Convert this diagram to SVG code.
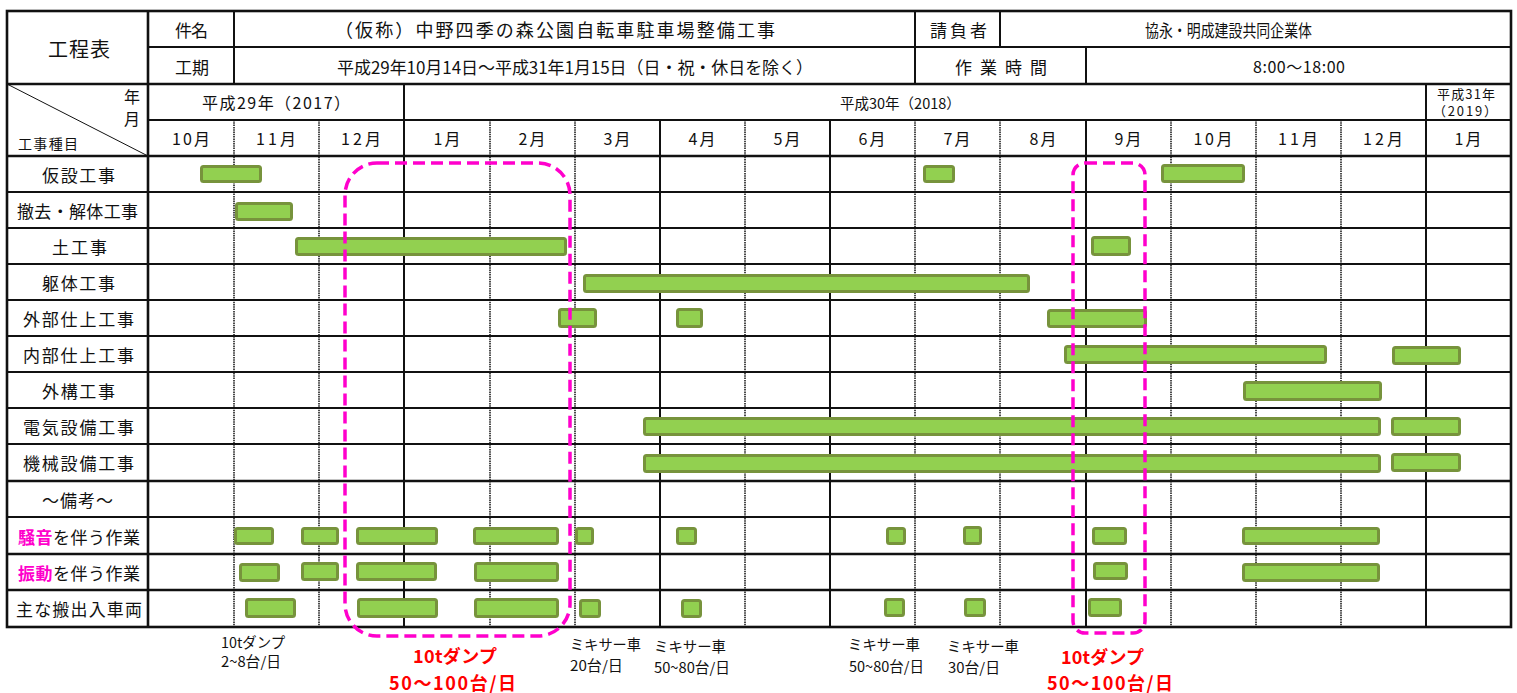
<svg xmlns="http://www.w3.org/2000/svg" width="1517" height="693" viewBox="0 0 1517 693">
<style>
text{font-family:"Noto Sans CJK JP","Liberation Sans",sans-serif;fill:#111;dominant-baseline:central}
.h{font-size:17px}
.m{font-size:16px;text-anchor:middle}
.rl{font-size:17px}
.an{font-size:14.5px}
.red{font-size:18px;font-weight:bold;fill:#FF0000}
.mg{fill:#FF00CC;font-weight:bold}
.bar{fill:#92D050;stroke:#77933C;stroke-width:3}
.ln{stroke:#111;fill:none}
.dt{stroke:#111;stroke-width:1.5;stroke-dasharray:1.5,0.8}
.box{fill:none;stroke:#FF00CC;stroke-width:3.5;stroke-dasharray:12,6}
</style>
<rect width="1517" height="693" fill="#fff"/>
<g id="grid">
<g class="dt">
<line x1="234" y1="120" x2="234" y2="627"/><line x1="319" y1="120" x2="319" y2="627"/>
<line x1="490" y1="120" x2="490" y2="627"/><line x1="575" y1="120" x2="575" y2="627"/>
<line x1="745" y1="120" x2="745" y2="627"/><line x1="915" y1="120" x2="915" y2="627"/>
<line x1="1000" y1="120" x2="1000" y2="627"/><line x1="1171" y1="120" x2="1171" y2="627"/>
<line x1="1256" y1="120" x2="1256" y2="627"/><line x1="1341" y1="120" x2="1341" y2="627"/>
</g>
<g class="ln" stroke-width="1.8">
<line x1="7" y1="192" x2="1511" y2="192"/><line x1="7" y1="228" x2="1511" y2="228"/>
<line x1="7" y1="264" x2="1511" y2="264"/><line x1="7" y1="300" x2="1511" y2="300"/>
<line x1="7" y1="336" x2="1511" y2="336"/><line x1="7" y1="372" x2="1511" y2="372"/>
<line x1="7" y1="408" x2="1511" y2="408"/><line x1="7" y1="444" x2="1511" y2="444"/>
<line x1="7" y1="517" x2="1511" y2="517"/>
<line x1="148" y1="120" x2="1511" y2="120"/>
</g>
<g class="ln" stroke-width="2">
<line x1="148" y1="47" x2="1511" y2="47"/>
<line x1="234" y1="11" x2="234" y2="84"/><line x1="915" y1="11" x2="915" y2="84"/>
<line x1="1000" y1="11" x2="1000" y2="47"/><line x1="1086" y1="47" x2="1086" y2="84"/>
<line x1="404" y1="84" x2="404" y2="627"/><line x1="1426" y1="84" x2="1426" y2="627"/>
<line x1="660" y1="120" x2="660" y2="627"/><line x1="830" y1="120" x2="830" y2="627"/>
<line x1="1086" y1="120" x2="1086" y2="627"/>
</g>
<g class="ln" stroke-width="2.6">
<line x1="7" y1="84" x2="1511" y2="84"/>
<line x1="7" y1="156" x2="1511" y2="156"/>
<line x1="7" y1="481" x2="1511" y2="481"/>
<line x1="7" y1="554" x2="1511" y2="554"/>
<line x1="7" y1="590" x2="1511" y2="590"/>
<line x1="148" y1="11" x2="148" y2="627"/>
<rect x="7" y="11" width="1504" height="616"/>
</g>
<line class="ln" stroke-width="1" x1="7" y1="84" x2="148" y2="156"/>
</g>
<g id="header">
<text x="48" y="48" font-size="20" textLength="62">工程表</text>
<text class="h" x="175" y="29" textLength="33">件名</text>
<text class="h" x="175" y="66" textLength="34">工期</text>
<text x="335" y="29" font-size="18" textLength="440">（仮称）中野四季の森公園自転車駐車場整備工事</text>
<text class="h" x="930" y="29" textLength="57">請負者</text>
<text class="h" x="1145" y="29" textLength="167" lengthAdjust="spacingAndGlyphs">協永・明成建設共同企業体</text>
<text class="h" x="337" y="66" textLength="476">平成29年10月14日～平成31年1月15日（日・祝・休日を除く）</text>
<text class="h" x="955" y="66" textLength="92">作業時間</text>
<text x="1253" y="66" font-size="16" textLength="92">8:00～18:00</text>
<text x="124" y="96" font-size="16">年</text>
<text x="124" y="118" font-size="16">月</text>
<text x="18" y="143" font-size="14" textLength="60">工事種目</text>
<text x="202" y="102" font-size="16" textLength="148">平成29年（2017）</text>
<text x="840" y="102" font-size="14.5">平成30年（2018）</text>
<text x="1437" y="93" font-size="13" textLength="58">平成31年</text>
<text x="1433" y="110" font-size="13" textLength="64">（2019）</text>
</g>
<g id="months">
<text class="m" x="191" y="138" textLength="38">10月</text>
<text class="m" x="276" y="138" textLength="40">11月</text>
<text class="m" x="361" y="138" textLength="40">12月</text>
<text class="m" x="447" y="138" textLength="27">1月</text>
<text class="m" x="532" y="138" textLength="27">2月</text>
<text class="m" x="617" y="138" textLength="27">3月</text>
<text class="m" x="702" y="138" textLength="27">4月</text>
<text class="m" x="787" y="138" textLength="27">5月</text>
<text class="m" x="872" y="138" textLength="27">6月</text>
<text class="m" x="957" y="138" textLength="27">7月</text>
<text class="m" x="1043" y="138" textLength="27">8月</text>
<text class="m" x="1128" y="138" textLength="27">9月</text>
<text class="m" x="1213" y="138" textLength="39">10月</text>
<text class="m" x="1298" y="138" textLength="40">11月</text>
<text class="m" x="1383" y="138" textLength="40">12月</text>
<text class="m" x="1468" y="138" textLength="27">1月</text>
</g>
<g id="row-labels">
<text class="rl" x="42" y="174" textLength="73">仮設工事</text>
<text class="rl" x="17" y="210" textLength="121">撤去・解体工事</text>
<text class="rl" x="52" y="246" textLength="55">土工事</text>
<text class="rl" x="42" y="282" textLength="73">躯体工事</text>
<text class="rl" x="23" y="318" textLength="111">外部仕上工事</text>
<text class="rl" x="23" y="354" textLength="111">内部仕上工事</text>
<text class="rl" x="42" y="390" textLength="73">外構工事</text>
<text class="rl" x="23" y="426" textLength="111">電気設備工事</text>
<text class="rl" x="23" y="462" textLength="111">機械設備工事</text>
<text class="rl" x="42" y="499" textLength="71">～備考～</text>
<text class="rl" x="18" y="536" textLength="122"><tspan class="mg">騒音</tspan>を伴う作業</text>
<text class="rl" x="18" y="572" textLength="122"><tspan class="mg">振動</tspan>を伴う作業</text>
<text class="rl" x="16" y="608" textLength="126">主な搬出入車両</text>
</g>
<g id="bars">
<g id="r0"><rect class="bar" rx="2" x="201.5" y="166.5" width="59" height="15"/><rect class="bar" rx="2" x="924.5" y="166.5" width="29" height="15"/><rect class="bar" rx="2" x="1162.5" y="165.5" width="81" height="16"/></g>
<g id="r1"><rect class="bar" rx="2" x="236.5" y="203.5" width="55" height="16"/></g>
<g id="r2"><rect class="bar" rx="2" x="296.5" y="238.5" width="269" height="16"/><rect class="bar" rx="2" x="1092.5" y="237.5" width="37" height="17"/></g>
<g id="r3"><rect class="bar" rx="2" x="584.5" y="275.5" width="444" height="16"/></g>
<g id="r4"><rect class="bar" rx="2" x="559.5" y="309.5" width="36" height="17"/><rect class="bar" rx="2" x="677.5" y="309.5" width="24" height="17"/><rect class="bar" rx="2" x="1048.5" y="310.5" width="97" height="16"/></g>
<g id="r5"><rect class="bar" rx="2" x="1065.5" y="346.5" width="260" height="16"/><rect class="bar" rx="2" x="1393.5" y="347.5" width="66" height="16"/></g>
<g id="r6"><rect class="bar" rx="2" x="1244.5" y="382.5" width="136" height="17"/></g>
<g id="r7"><rect class="bar" rx="2" x="644.5" y="418.5" width="735" height="16"/><rect class="bar" rx="2" x="1392.5" y="418.5" width="67" height="16"/></g>
<g id="r8"><rect class="bar" rx="2" x="644.5" y="455.5" width="735" height="16"/><rect class="bar" rx="2" x="1392.5" y="454.5" width="67" height="16"/></g>
<g id="r10">
<rect class="bar" rx="2" x="235.5" y="528.5" width="37" height="15"/><rect class="bar" rx="2" x="302.5" y="528.5" width="35" height="15"/>
<rect class="bar" rx="2" x="357.5" y="528.5" width="79" height="15"/><rect class="bar" rx="2" x="474.5" y="528.5" width="83" height="15"/>
<rect class="bar" rx="2" x="576.5" y="528.5" width="16" height="15"/><rect class="bar" rx="2" x="677.5" y="528.5" width="18" height="15"/>
<rect class="bar" rx="2" x="887.5" y="528.5" width="17" height="15"/><rect class="bar" rx="2" x="964.5" y="527.5" width="16" height="16"/>
<rect class="bar" rx="2" x="1093.5" y="528.5" width="32" height="15"/><rect class="bar" rx="2" x="1243.5" y="528.5" width="135" height="15"/>
</g>
<g id="r11">
<rect class="bar" rx="2" x="240.5" y="564.5" width="38" height="16"/><rect class="bar" rx="2" x="302.5" y="563.5" width="35" height="16"/>
<rect class="bar" rx="2" x="357.5" y="563.5" width="78" height="16"/><rect class="bar" rx="2" x="475.5" y="563.5" width="82" height="17"/>
<rect class="bar" rx="2" x="1094.5" y="563.5" width="32" height="15"/><rect class="bar" rx="2" x="1243.5" y="564.5" width="135" height="16"/>
</g>
<g id="r12">
<rect class="bar" rx="2" x="246.5" y="599.5" width="48" height="17"/><rect class="bar" rx="2" x="358.5" y="599.5" width="78" height="17"/>
<rect class="bar" rx="2" x="475.5" y="599.5" width="82" height="17"/><rect class="bar" rx="2" x="580.5" y="600.5" width="19" height="16"/>
<rect class="bar" rx="2" x="682.5" y="600.5" width="18" height="16"/><rect class="bar" rx="2" x="885.5" y="599.5" width="18" height="16"/>
<rect class="bar" rx="2" x="965.5" y="599.5" width="19" height="16"/><rect class="bar" rx="2" x="1089.5" y="599.5" width="31" height="16"/>
</g>
</g>
<g id="highlights">
<rect class="box" x="345" y="163" width="225" height="473" rx="32"/>
<rect class="box" x="1073" y="163" width="72" height="470" rx="12"/>
</g>
<g id="notes">
<text class="an" x="221" y="641" textLength="64" lengthAdjust="spacingAndGlyphs">10tダンプ</text>
<text class="an" x="221" y="660" textLength="60" lengthAdjust="spacingAndGlyphs">2~8台/日</text>
<text class="red" x="413" y="655" textLength="84">10tダンプ</text>
<text class="red" x="389" y="682" textLength="127">50～100台/日</text>
<text class="an" x="570" y="643" textLength="71" lengthAdjust="spacingAndGlyphs">ミキサー車</text>
<text class="an" x="570" y="664" textLength="53" lengthAdjust="spacingAndGlyphs">20台/日</text>
<text class="an" x="654" y="645" textLength="72" lengthAdjust="spacingAndGlyphs">ミキサー車</text>
<text class="an" x="654" y="666" textLength="76" lengthAdjust="spacingAndGlyphs">50~80台/日</text>
<text class="an" x="848" y="643" textLength="72" lengthAdjust="spacingAndGlyphs">ミキサー車</text>
<text class="an" x="849" y="665" textLength="75" lengthAdjust="spacingAndGlyphs">50~80台/日</text>
<text class="an" x="947" y="645" textLength="72" lengthAdjust="spacingAndGlyphs">ミキサー車</text>
<text class="an" x="948" y="666" textLength="52" lengthAdjust="spacingAndGlyphs">30台/日</text>
<text class="red" x="1061" y="656" textLength="83">10tダンプ</text>
<text class="red" x="1047" y="682" textLength="126">50～100台/日</text>
</g>
</svg>
